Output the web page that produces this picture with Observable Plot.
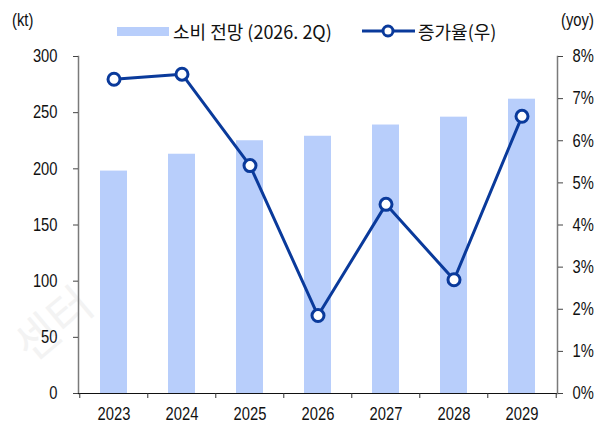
<!DOCTYPE html>
<html><head><meta charset="utf-8">
<script src="https://cdn.jsdelivr.net/npm/d3@7"></script>
<script src="https://cdn.jsdelivr.net/npm/@observablehq/plot@0.6"></script>
<style>
body{margin:0;background:#fff;}
#wrap{position:relative;width:609px;height:423px;font-family:"Noto Sans CJK KR",sans-serif;color:#111;}
.lbl{position:absolute;font-size:18px;line-height:18px;white-space:nowrap;}
.narrow{font-family:"Liberation Sans",Arial,sans-serif;transform:scaleX(0.82);transform-origin:left center;}
.sw{position:absolute;}
</style></head>
<body><div id="wrap"></div>
<script>
const years = ["2023","2024","2025","2026","2027","2028","2029"];
const consumption = [198, 213, 225, 229, 239, 246, 262];
const growth = [7.46, 7.58, 5.41, 1.85, 4.49, 2.70, 6.58];
const leftTicks = [0, 50, 100, 150, 200, 250, 300];
const rightTicks = [0, 1, 2, 3, 4, 5, 6, 7, 8];
const legendBar = "소비 전망 (2026. 2Q)";
const legendLine = "증가율(우)";

const W = 609, H = 423, mL = 78, mR = 52, mT = 56, mB = 30;
const ratio = 300 / 8;
const step = (W - mL - mR) / years.length;
const data = years.map((y, i) => ({year: y, v: consumption[i], g: growth[i] * ratio}));
const font = '"Liberation Sans",Arial,sans-serif';
const lineColor = "#0a3a9b";
const barColor = "#b8cefb";

const chart = Plot.plot({
  width: W, height: H,
  marginLeft: mL, marginRight: mR, marginTop: mT, marginBottom: mB,
  style: {fontFamily: font, fontSize: "18px", color: "#111", background: "transparent"},
  x: {type: "band", domain: years, paddingInner: 0.6, paddingOuter: 0.3, label: null},
  y: {domain: [0, 300], label: null},
  marks: [
    Plot.text(["센터"], {frameAnchor: "bottom-left", dx: -24, dy: -68, rotate: -40, textAnchor: "middle", lineAnchor: "middle", fill: "#f3f3f3", fontSize: 46, fontFamily: "Noto Sans CJK KR"}),
    Plot.barY(data, {x: "year", y: "v", fill: barColor}),
    Plot.frame({anchor: "left", stroke: "#7a7a7a", strokeWidth: 1.5}),
    Plot.frame({anchor: "right", stroke: "#7a7a7a", strokeWidth: 1.5}),
    Plot.axisY({anchor: "left", ticks: leftTicks, tickSize: 5, tickPadding: 16, stroke: "#444", fill: "#111", label: null}),
    Plot.axisY({anchor: "right", ticks: rightTicks.map(t => t * ratio), tickFormat: d => Math.round(d / ratio) + "%", tickSize: 5, tickPadding: 10, stroke: "#444", fill: "#111", label: null}),
    Plot.ruleY([0], {stroke: "#111", strokeWidth: 1.2}),
    Plot.ruleX(years, {x: d => d, y1: 0, y2: 0, insetBottom: -5, dx: -step / 2, stroke: "#333"}),
    Plot.ruleX([years[years.length - 1]], {x: d => d, y1: 0, y2: 0, insetBottom: -5, dx: step / 2, stroke: "#333"}),
    Plot.axisX({tickSize: 0, tickPadding: 14, fill: "#111", label: null}),
    Plot.line(data, {x: "year", y: "g", stroke: lineColor, strokeWidth: 3}),
    Plot.dot(data, {x: "year", y: "g", r: 6, fill: "white", stroke: lineColor, strokeWidth: 3})
  ]
});
const wrap = document.getElementById("wrap");
chart.style.position = "absolute"; chart.style.left = "0"; chart.style.top = "0";
wrap.appendChild(chart);
// condense the tick labels horizontally (Arial Narrow look)
chart.querySelectorAll('g[aria-label$="tick label"] text').forEach(t => {
  const L = t.getComputedTextLength();
  t.setAttribute("textLength", (L * 0.82).toFixed(1));
  t.setAttribute("lengthAdjust", "spacingAndGlyphs");
});

function label(text, x, y, cls) {
  const d = document.createElement("div");
  d.className = "lbl" + (cls ? " " + cls : ""); d.textContent = text;
  d.style.left = x + "px"; d.style.top = (y - 9) + "px";
  wrap.appendChild(d);
  return d;
}
label("(kt)", 12, 20, "narrow");
label("(yoy)", 561, 20, "narrow");
const s1 = document.createElement("div");
s1.className = "sw";
Object.assign(s1.style, {left: "117px", top: "27px", width: "52px", height: "9px", background: barColor});
wrap.appendChild(s1);
label(legendBar, 173, 31);
const s2 = document.createElementNS("http://www.w3.org/2000/svg", "svg");
s2.setAttribute("width", 56); s2.setAttribute("height", 20);
Object.assign(s2.style, {position: "absolute", left: "360px", top: "21px"});
s2.innerHTML = `<line x1="2" x2="55" y1="10" y2="10" stroke="${lineColor}" stroke-width="3"/><circle cx="28" cy="10" r="5" fill="white" stroke="${lineColor}" stroke-width="3"/>`;
wrap.appendChild(s2);
label(legendLine, 418, 31);
</script>
</body></html>
